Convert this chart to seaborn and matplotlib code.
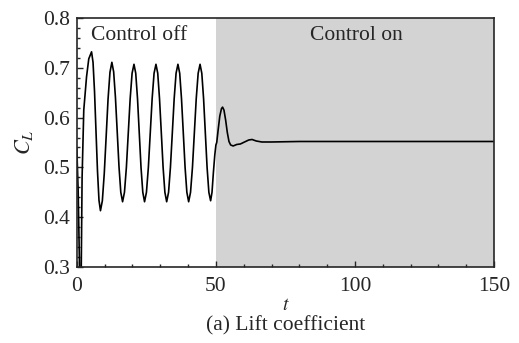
import numpy as np
import pandas as pd
import matplotlib
matplotlib.use('Agg')
import matplotlib.pyplot as plt
from matplotlib.ticker import MultipleLocator
import seaborn as sns

# values (t, C_L)
t_start = [0.0, 0.5, 1.0, 1.3, 1.6, 1.9, 2.5, 3.5, 4.3]
cl_start = [0.54, 0.45, 0.29, 0.25, 0.30, 0.48, 0.615, 0.682, 0.718]

t_off = [5.3, 5.83, 6.37, 6.9, 7.43, 7.97,
         8.5, 9.18, 9.87, 10.55, 11.23, 11.92,
         12.6, 13.24, 13.88, 14.53, 15.17, 15.81,
         16.45, 17.13, 17.82, 18.5, 19.18, 19.87,
         20.55, 21.18, 21.82, 22.45, 23.08, 23.72,
         24.35, 25.03, 25.72, 26.4, 27.08, 27.77,
         28.45, 29.09, 29.73, 30.38, 31.02, 31.66,
         32.3, 32.98, 33.65, 34.33, 35.0, 35.68,
         36.35, 36.99, 37.63, 38.28, 38.92, 39.56,
         40.2, 40.88, 41.57, 42.25, 42.93, 43.62,
         44.3, 44.93, 45.57, 46.2, 46.83, 47.47,
         48.1, 48.6, 49.1, 49.6]
cl_off = [0.732, 0.711, 0.652, 0.572, 0.493, 0.434,
          0.413, 0.433, 0.488, 0.562, 0.637, 0.691,
          0.711, 0.692, 0.641, 0.571, 0.501, 0.450,
          0.431, 0.450, 0.500, 0.569, 0.638, 0.689,
          0.707, 0.689, 0.638, 0.569, 0.500, 0.450,
          0.431, 0.450, 0.500, 0.569, 0.638, 0.689,
          0.707, 0.689, 0.638, 0.569, 0.500, 0.450,
          0.431, 0.450, 0.500, 0.569, 0.638, 0.689,
          0.707, 0.689, 0.638, 0.569, 0.500, 0.450,
          0.431, 0.450, 0.500, 0.569, 0.638, 0.689,
          0.707, 0.689, 0.638, 0.569, 0.500, 0.450,
          0.433, 0.450, 0.490, 0.525]

t_on = [50.0, 50.3, 50.8, 51.4, 52.0, 52.4, 52.9, 53.5, 54.1, 54.7, 55.3,
        56.2, 57.5, 58.8, 60.3, 61.8, 63.0, 64.5, 66.5, 70.0, 80.0, 100.0, 150.0]
cl_on = [0.545, 0.550, 0.575, 0.603, 0.618, 0.621, 0.615, 0.595, 0.570, 0.552, 0.545,
         0.543, 0.546, 0.547, 0.551, 0.555, 0.556, 0.553, 0.551, 0.551, 0.552, 0.552, 0.552]

t_switch = 50
t_end = 150


def main():
    sns.set_style('ticks')
    plt.rcParams['font.family'] = ['Liberation Serif', 'DejaVu Serif']
    plt.rcParams['mathtext.fontset'] = 'stix'

    d = pd.DataFrame({'t': t_start + t_off + t_on, 'CL': cl_start + cl_off + cl_on})

    fig = plt.figure(figsize=(5.19, 3.43), dpi=100)
    ax = fig.add_axes([0.148, 0.2216, 0.804, 0.726])

    ax.axvspan(t_switch, t_end, color='#d3d3d3', zorder=0, lw=0)
    sns.lineplot(x='t', y='CL', data=d, ax=ax, color='black', lw=1.2,
                 estimator=None, sort=False)

    ax.set_xlim(0, 150)
    ax.set_ylim(0.3, 0.8)
    ax.xaxis.set_major_locator(MultipleLocator(50))
    ax.xaxis.set_minor_locator(MultipleLocator(10))
    ax.yaxis.set_major_locator(MultipleLocator(0.1))
    ax.yaxis.set_minor_locator(MultipleLocator(0.02))
    ax.set_yticklabels([f'{v:.1f}' for v in ax.get_yticks()])
    ax.tick_params(which='both', direction='in', labelsize=15.5, width=1.0)
    ax.tick_params(which='major', length=4.5)
    ax.tick_params(axis='x', which='major', pad=7.5)
    ax.tick_params(axis='y', which='major', pad=5)
    ax.tick_params(which='minor', length=2.5)
    for s in ax.spines.values():
        s.set_linewidth(1.2)

    ax.set_xlabel('$t$', fontsize=14)
    ax.xaxis.set_label_coords(0.5, -0.122)
    ax.set_ylabel('$C_L$', fontsize=16, labelpad=6)

    ax.text(22.5, 0.765, 'Control off', fontsize=15.5, ha='center', va='center')
    ax.text(100.5, 0.765, 'Control on', fontsize=15.5, ha='center', va='center')
    fig.text(0.55, 0.05, '(a) Lift coefficient', fontsize=15.5, ha='center', va='center')

    fig.savefig('out.png', dpi=100)


if __name__ == '__main__':
    main()
